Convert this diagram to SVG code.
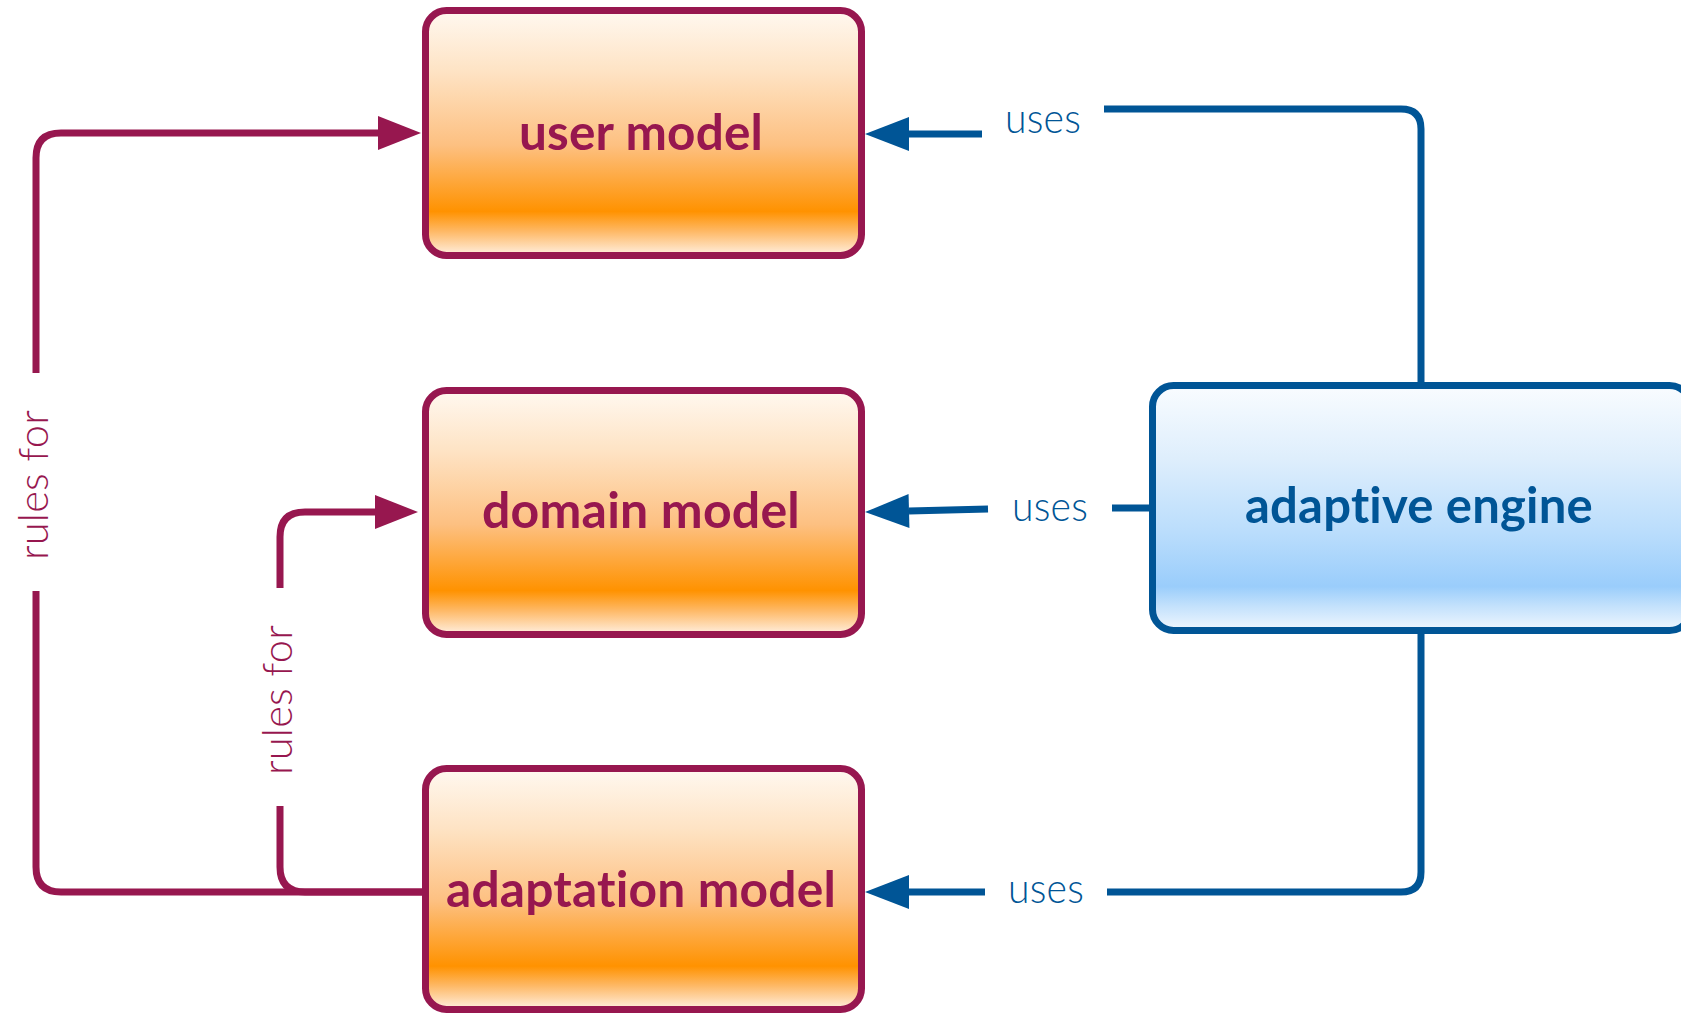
<svg xmlns="http://www.w3.org/2000/svg" width="1681" height="1015" viewBox="0 0 1681 1015">
  <defs>
    <linearGradient id="gradOrange" x1="0" y1="0" x2="0" y2="1">
      <stop offset="0" stop-color="#FFF8F0"/>
      <stop offset="0.25" stop-color="#FEE3C4"/>
      <stop offset="0.55" stop-color="#FDC081"/>
      <stop offset="0.82" stop-color="#FF9200"/>
      <stop offset="0.9" stop-color="#FEB864"/>
      <stop offset="1" stop-color="#FFF0E2"/>
    </linearGradient>
    <linearGradient id="gradBlue" x1="0" y1="0" x2="0" y2="1">
      <stop offset="0" stop-color="#F9FCFF"/>
      <stop offset="0.3" stop-color="#DEEEFC"/>
      <stop offset="0.6" stop-color="#BADDFC"/>
      <stop offset="0.82" stop-color="#9ACDFB"/>
      <stop offset="0.9" stop-color="#C3E1FC"/>
      <stop offset="1" stop-color="#F0F7FE"/>
    </linearGradient>
    <marker id="arrowPurple" markerUnits="userSpaceOnUse" markerWidth="46" markerHeight="36" viewBox="0 -18 46 36" refX="0" refY="0" orient="auto" overflow="visible">
      <path d="M0,-17 L43,0 L0,17 z" fill="#97174F"/>
    </marker>
    <marker id="arrowBlue" markerUnits="userSpaceOnUse" markerWidth="46" markerHeight="36" viewBox="0 -18 46 36" refX="0" refY="0" orient="auto" overflow="visible">
      <path d="M0,-17 L44,0 L0,17 z" fill="#005596"/>
    </marker>
  </defs>
  <style>
    text { font-variant-ligatures: none; font-feature-settings: "liga" 0, "clig" 0, "calt" 0, "dlig" 0, "hlig" 0; letter-spacing: 0.2px; }
    .model rect { fill: url(#gradOrange); stroke: #97174F; stroke-width: 7; }
    .engine rect { fill: url(#gradBlue); stroke: #005596; stroke-width: 7; }
    .title { font-family: Lato, "Liberation Sans", sans-serif; font-weight: bold; font-size: 50px; text-anchor: middle; }
    .model .title { fill: #97174F; }
    .engine .title { fill: #005596; }
    .wire { fill: none; stroke-width: 7; stroke-linecap: butt; stroke-linejoin: round; }
    .rules { stroke: #97174F; }
    .uses { stroke: #005596; }
    .lbl { font-family: Lato, "Liberation Sans", sans-serif; font-weight: 300; font-size: 41px; text-anchor: middle; }
    .lbl-rules { fill: #97174F; }
    .lbl-uses { fill: #005596; }
  </style>

  <!-- connectors -->
  <g id="connectors">
    <!-- rules for: adaptation model -> user model -->
    <path class="wire rules" d="M36,373 V158 Q36,133 61,133 H378" marker-end="url(#arrowPurple)"/>
    <path class="wire rules" d="M36,591 V867 Q36,892 61,892 H423"/>
    <text class="lbl lbl-rules" transform="translate(48,485) rotate(-90)" textLength="150" lengthAdjust="spacingAndGlyphs">rules for</text>

    <!-- rules for: adaptation model -> domain model -->
    <path class="wire rules" d="M280,588 V537 Q280,512 305,512 H375" marker-end="url(#arrowPurple)"/>
    <path class="wire rules" d="M280,806 V867 Q280,892 305,892 H423"/>
    <text class="lbl lbl-rules" transform="translate(292,700) rotate(-90)" textLength="150" lengthAdjust="spacingAndGlyphs">rules for</text>

    <!-- uses: adaptive engine -> user model -->
    <path class="wire uses" d="M982,134 H909" marker-end="url(#arrowBlue)"/>
    <path class="wire uses" d="M1104,109 H1401 Q1421,109 1421,129 V383"/>
    <text class="lbl lbl-uses" x="1043" y="133" textLength="76" lengthAdjust="spacingAndGlyphs">uses</text>

    <!-- uses: adaptive engine -> domain model -->
    <path class="wire uses" d="M988,509 L909,511" marker-end="url(#arrowBlue)"/>
    <path class="wire uses" d="M1112,508 H1151"/>
    <text class="lbl lbl-uses" x="1050" y="521" textLength="76" lengthAdjust="spacingAndGlyphs">uses</text>

    <!-- uses: adaptive engine -> adaptation model -->
    <path class="wire uses" d="M985,892 H909" marker-end="url(#arrowBlue)"/>
    <path class="wire uses" d="M1107,892 H1401 Q1421,892 1421,872 V632"/>
    <text class="lbl lbl-uses" x="1046" y="903" textLength="76" lengthAdjust="spacingAndGlyphs">uses</text>
  </g>

  <!-- nodes -->
  <g id="user-model" class="model">
    <rect x="425.5" y="10.5" width="436" height="245" rx="21" ry="21"/>
    <text class="title" x="641" y="150" textLength="244" lengthAdjust="spacingAndGlyphs">user model</text>
  </g>
  <g id="domain-model" class="model">
    <rect x="425.5" y="390.5" width="436" height="244" rx="21" ry="21"/>
    <text class="title" x="641" y="528" textLength="318" lengthAdjust="spacingAndGlyphs">domain model</text>
  </g>
  <g id="adaptation-model" class="model">
    <rect x="425.5" y="768.5" width="436" height="241" rx="21" ry="21"/>
    <text class="title" x="641" y="907" textLength="390" lengthAdjust="spacingAndGlyphs">adaptation model</text>
  </g>
  <g id="adaptive-engine" class="engine">
    <rect x="1152.5" y="385.5" width="538" height="245" rx="21" ry="21"/>
    <text class="title" x="1419" y="523" textLength="348" lengthAdjust="spacingAndGlyphs">adaptive engine</text>
  </g>
</svg>
